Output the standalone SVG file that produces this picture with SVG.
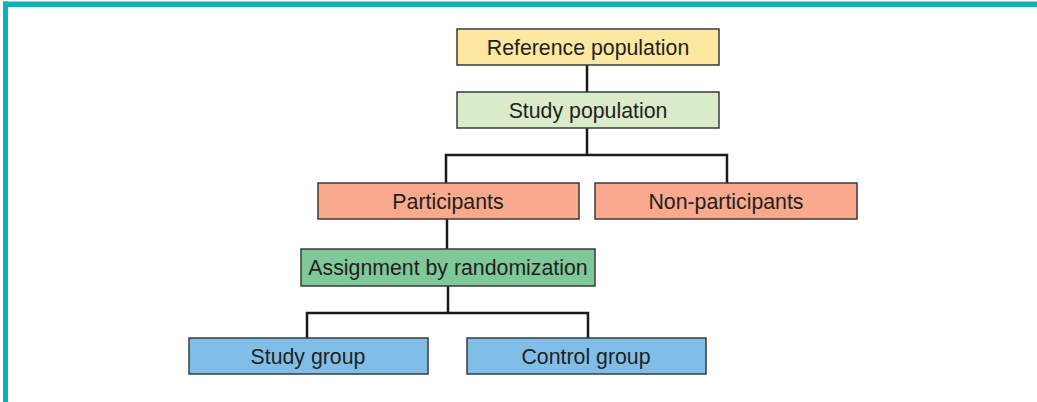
<svg xmlns="http://www.w3.org/2000/svg" width="1037" height="402" viewBox="0 0 1037 402">
  <style>
    .box { stroke: #3a3a3a; stroke-width: 1.5; }
    .lbl { font-family: "Liberation Sans", Arial, sans-serif; font-size: 21.3px; fill: #231f20; text-anchor: middle; }
    .wire { fill: none; stroke: #1a1a1a; stroke-width: 2.5; stroke-linejoin: miter; }
  </style>
  <rect width="1037" height="402" fill="#ffffff"/>
  <!-- teal frame, top and left edges -->
  <rect x="3" y="1.5" width="1034" height="5.5" fill="#0bb2b8"/>
  <rect x="3" y="1.5" width="5" height="400.5" fill="#0bb2b8"/>

  <g id="connectors">
    <path class="wire" d="M587 65 V92"/>
    <path class="wire" d="M587 128 V155 M446 183 V155 H727 V183"/>
    <path class="wire" d="M447 219 V249"/>
    <path class="wire" d="M448 286 V313 M307 338 V313 H588 V338"/>
  </g>

  <g id="reference-population">
    <rect class="box" x="457" y="29" width="262" height="36" fill="#fce8a0"/>
    <text class="lbl" x="588" y="54.5">Reference population</text>
  </g>
  <g id="study-population">
    <rect class="box" x="457" y="92" width="262" height="36" fill="#d9ebc8"/>
    <text class="lbl" x="588" y="117.5">Study population</text>
  </g>
  <g id="participants">
    <rect class="box" x="318" y="183" width="261" height="36" fill="#f8a98e"/>
    <text class="lbl" x="448" y="208.5">Participants</text>
  </g>
  <g id="non-participants">
    <rect class="box" x="595" y="183" width="262" height="36" fill="#f8a98e"/>
    <text class="lbl" x="726" y="208.5">Non-participants</text>
  </g>
  <g id="assignment">
    <rect class="box" x="301" y="249" width="294" height="37" fill="#7fc89a"/>
    <text class="lbl" x="448" y="275">Assignment by randomization</text>
  </g>
  <g id="study-group">
    <rect class="box" x="189" y="338" width="239" height="36" fill="#80bee8"/>
    <text class="lbl" x="308" y="363.5">Study group</text>
  </g>
  <g id="control-group">
    <rect class="box" x="467" y="338" width="239" height="36" fill="#80bee8"/>
    <text class="lbl" x="586" y="363.5">Control group</text>
  </g>
</svg>
